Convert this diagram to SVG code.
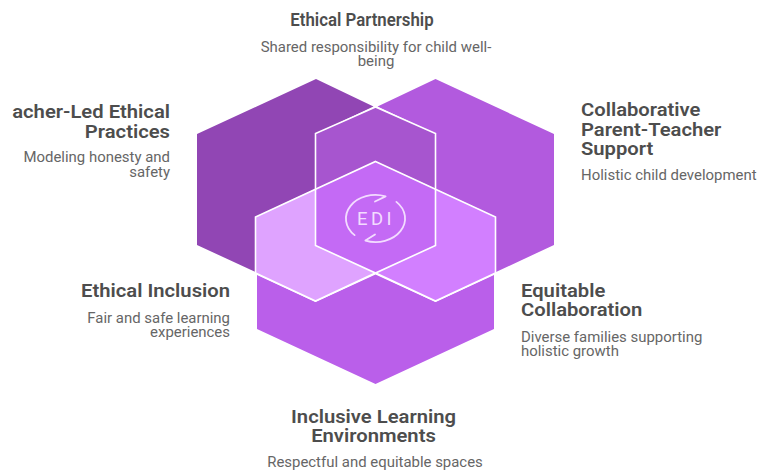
<svg xmlns="http://www.w3.org/2000/svg" width="758" height="470" viewBox="0 0 758 470">
<style>
.t{font-family:Roboto,"Liberation Sans",sans-serif;font-size:18px;font-weight:600;fill:#4d4d4d}
.d{font-family:Roboto,"Liberation Sans",sans-serif;font-size:14px;font-weight:400;fill:#666}
.e{text-anchor:end}.m{text-anchor:middle}
.o{fill:none;stroke:#fff;stroke-width:1.6;stroke-linejoin:miter}
.i{fill:none;stroke:#f3dcff;stroke-width:1.8;stroke-linecap:round;stroke-linejoin:round}
</style>
<rect width="758" height="470" fill="#fff"/>
<g id="hex-left"><polygon points="316,79 373.5,106.5 315.5,134 315.5,189 255.5,217 255.5,272 197,245 197,134" fill="#9146b4"/></g>
<g id="hex-right"><polygon points="435.5,79 554,134 554,245 496,272 495.5,217 435.5,189 435.5,134 377.5,106.5" fill="#b25ade"/></g>
<g id="hex-bottom"><polygon points="257,275 315.5,302 375.5,274.500 435.500,302 494,275 494,329 375.500,384 257,329" fill="#ba5fea"/></g>
<g id="hex-top-overlap"><polygon points="375.5,107 435.5,133.500 435.5,189 375.5,161.500 315.5,189 315.5,133.500" fill="#a755cf"/></g>
<g id="hex-center">
<polygon points="375.500,161.500 435.500,189 435.500,245.500 375.500,273 315.500,245.500 315.500,189" fill="#c46af5"/>
<polygon points="315.500,189 315.500,245.500 375.500,273 315.500,301 255.500,273 255.500,217" fill="#dfa3ff"/>
<polygon points="435.500,189 495.500,217 495.500,273 435.500,301 375.500,273 435.500,245.500" fill="#d27fff"/>
<path class="o" d="M375.500,107 435.500,133.500V245.500L375.500,273 315.500,245.500V133.500Z"/>
<path class="o" d="M375.500,161.500 495.500,217V273L435.500,301 375.500,273 315.500,301 255.500,273V217Z"/>
<path class="i" d="M354.600,235.100A29.500,23.500 0 0 1 385.600,196.400L375,201.500"/>
<path class="i" d="M396.400,201.900A29.500,23.500 0 0 1 365.400,240.600L375,234.500"/>
<text x="376" y="225" text-anchor="middle" font-family="Roboto,'Liberation Sans',sans-serif" font-size="18.500" font-weight="400" letter-spacing="3.500" fill="#f3dcff">EDI</text>
</g>
<g id="label-top">
<text class="t m" transform="translate(362 0) scale(0.935 1)" y="26">Ethical Partnership</text>
<text class="d m" transform="translate(376 0) scale(1.067 1)" y="52">Shared responsibility for child well-</text>
<text class="d m" transform="translate(376 0) scale(1.067 1)" y="66">being</text>
</g>
<g id="label-left">
<text class="t e" transform="translate(170 0) scale(1.124 1)" y="118.500">acher-Led Ethical</text>
<text class="t e" transform="translate(170 0) scale(1.124 1)" y="138.500">Practices</text>
<text class="d e" transform="translate(170 0) scale(1.067 1)" y="162">Modeling honesty and</text>
<text class="d e" transform="translate(170 0) scale(1.067 1)" y="177">safety</text>
</g>
<g id="label-right">
<text class="t" transform="translate(581 0) scale(1.124 1)" y="116">Collaborative</text>
<text class="t" transform="translate(581 0) scale(1.124 1)" y="136">Parent-Teacher</text>
<text class="t" transform="translate(581 0) scale(1.124 1)" y="155">Support</text>
<text class="d" transform="translate(581 0) scale(1.067 1)" y="180">Holistic child development</text>
</g>
<g id="label-lower-left">
<text class="t e" transform="translate(230 0) scale(1.124 1)" y="297">Ethical Inclusion</text>
<text class="d e" transform="translate(230 0) scale(1.067 1)" y="323">Fair and safe learning</text>
<text class="d e" transform="translate(230 0) scale(1.067 1)" y="337">experiences</text>
</g>
<g id="label-lower-right">
<text class="t" transform="translate(521 0) scale(1.124 1)" y="297">Equitable</text>
<text class="t" transform="translate(521 0) scale(1.124 1)" y="316">Collaboration</text>
<text class="d" transform="translate(521 0) scale(1.067 1)" y="342">Diverse families supporting</text>
<text class="d" transform="translate(521 0) scale(1.067 1)" y="356">holistic growth</text>
</g>
<g id="label-bottom">
<text class="t m" transform="translate(373.500 0) scale(1.124 1)" y="423">Inclusive Learning</text>
<text class="t m" transform="translate(373.500 0) scale(1.124 1)" y="442">Environments</text>
<text class="d m" transform="translate(375 0) scale(1.067 1)" y="467">Respectful and equitable spaces</text>
</g>
<g id="connectors"/>
</svg>
